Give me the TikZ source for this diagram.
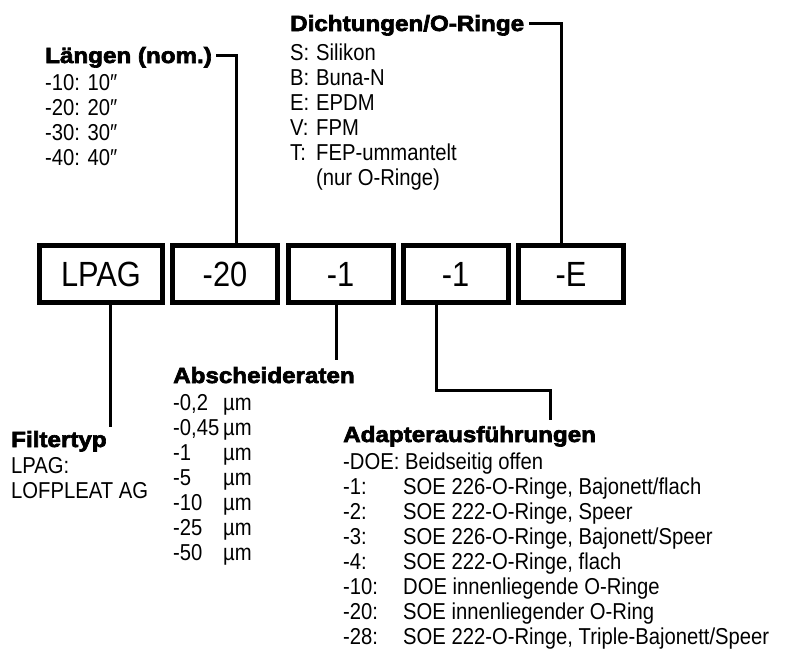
\documentclass[tikz,border=0pt]{standalone}
\usepackage{fontspec}
\setmainfont{Liberation Sans}[FakeStretch=0.88]
\newfontfamily\headfont{Liberation Sans}[UprightFont={* Bold},FakeStretch=1.1,FakeBold=3]
\usetikzlibrary{positioning}

\begin{document}
\begin{tikzpicture}[x=1pt, y=-1pt,
                    code box/.style={draw,line width=5pt,minimum width=105pt,minimum height=57pt,
                                     inner sep=0pt,font=\fontsize{35}{40}\selectfont},
                    head/.style={anchor=base west,inner sep=0pt,font=\headfont\fontsize{22}{25}\selectfont},
                    list/.style={anchor=base west,inner sep=0pt,font=\fontsize{23}{25}\selectfont},
                    link/.style={line width=3pt}]
  \useasboundingbox (0,0) rectangle (787,651);

  % the five code boxes
  \node[code box,minimum width=123pt] (lpag) at (101,274) {LPAG};
  \node[code box] (len)  [right=5pt of lpag] {-20};
  \node[code box] (rate) [right=5.5pt of len] {-1};
  \node[code box] (adap) [right=5pt of rate] {-1};
  \node[code box] (seal) [right=5.5pt of adap] {-E};

  % headings and lists
  \node[head] (lenhead) at (45,63) {Längen (nom.)};
  \node[list] (lenlist) at (45,90) {\begin{tabular}[t]{@{}l@{}}
    -10: 10″\\ -20: 20″\\ -30: 30″\\ -40: 40″\end{tabular}};

  \node[head] (sealhead) at (290,31) {Dichtungen/O-Ringe};
  \node[list] (seallist) at (290,60) {\begin{tabular}[t]{@{}p{26pt}@{}l@{}}
    S: & Silikon\\ B: & Buna-N\\ E: & EPDM\\ V: & FPM\\ T: & FEP-ummantelt\\ & (nur O-Ringe)\end{tabular}};

  \node[head] (typhead) at (11,447) {Filtertyp};
  \node[list] (typlist) at (11,473) {\begin{tabular}[t]{@{}l@{}}
    LPAG:\\ LOFPLEAT AG\end{tabular}};

  \node[head] (ratehead) at (173,383) {Abscheideraten};
  \node[list] (ratelist) at (173,410) {\begin{tabular}[t]{@{}p{50pt}@{}l@{}}
    -0,2 & µm\\ -0,45 & µm\\ -1 & µm\\ -5 & µm\\ -10 & µm\\ -25 & µm\\ -50 & µm\end{tabular}};

  \node[head] (adaphead) at (343,442) {Adapterausführungen};
  \node[list] (adaplist) at (343,469) {\begin{tabular}[t]{@{}p{60pt}@{}l@{}}
    \multicolumn{2}{@{}l@{}}{-DOE: Beidseitig offen}\\
    -1: & SOE 226-O-Ringe, Bajonett/flach\\
    -2: & SOE 222-O-Ringe, Speer\\
    -3: & SOE 226-O-Ringe, Bajonett/Speer\\
    -4: & SOE 222-O-Ringe, flach\\
    -10: & DOE innenliegende O-Ringe\\
    -20: & SOE innenliegender O-Ring\\
    -28: & SOE 222-O-Ringe, Triple-Bajonett/Speer\end{tabular}};

  % connectors
  \draw[link] ([xshift=11pt]len.north) |- ([xshift=4pt,yshift=8pt]lenhead.base east);
  \draw[link] ([xshift=-10pt]seal.north) |- ([xshift=5pt,yshift=8pt]sealhead.base east);
  \draw[link] ([xshift=9pt]lpag.south) -- ([xshift=9pt,yshift=4pt]lpag.south |- typhead.north);
  \draw[link] ([xshift=-4.5pt]rate.south) -- ([xshift=-4.5pt,yshift=7pt]rate.south |- ratehead.north);
  \draw[link] ([xshift=-19pt]adap.south) -- ++(0,85) -| ([xshift=207pt,yshift=6pt]adaphead.north west);

\end{tikzpicture}
\end{document}
